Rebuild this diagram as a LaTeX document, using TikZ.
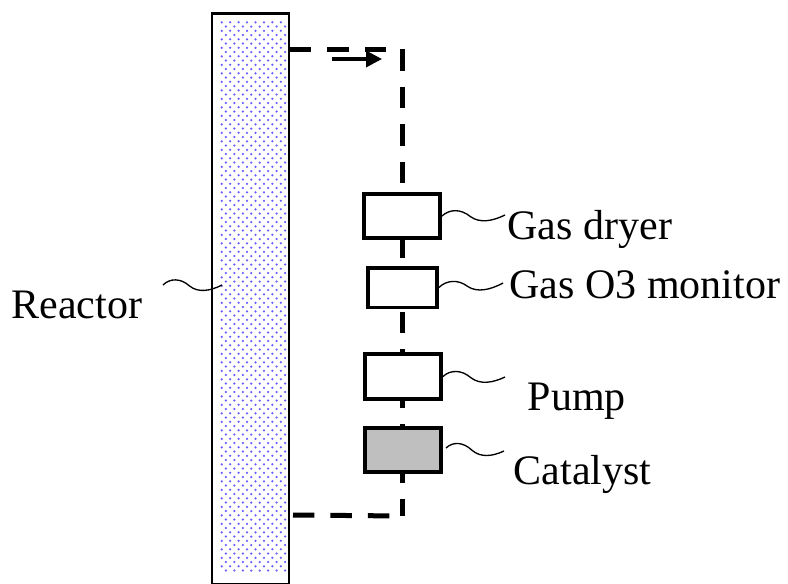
\documentclass[tikz,border=0pt]{standalone}
\usepackage{fontspec}
\setmainfont{Liberation Serif}
\usetikzlibrary{calc,arrows.meta}

\definecolor{dotblue}{RGB}{105,95,255}
\definecolor{catalystgray}{RGB}{191,191,191}

\tikzset{
  unit/.style={draw=black,line width=3pt,fill=white,minimum width=57pt,minimum height=33pt,inner sep=0pt},
  label/.style={font=\fontsize{31.5pt}{36pt}\selectfont,anchor=base west,inner sep=0pt},
  gasline/.style={line width=3.75pt,dash pattern=on 16.1pt off 12pt},
  wavy/.style={line width=1.2pt,to path={
    .. controls ($(\tikztostart)!.12!(\tikztotarget)+(0,-7)$) and ($(\tikztostart)!.3!(\tikztotarget)+(0,-7)$)
    .. ($(\tikztostart)!.45!(\tikztotarget)+(0,1)$)
    .. controls ($(\tikztostart)!.6!(\tikztotarget)+(0,8)$) and ($(\tikztostart)!.8!(\tikztotarget)+(0,6)$)
    .. (\tikztotarget)}}
}

\begin{document}
\begin{tikzpicture}[x=0.75pt,y=-0.75pt,line width=1pt]

    \useasboundingbox (0,0) rectangle (788,583);

    % reactor column
    \node[draw=black,line width=2pt,minimum width=57.75pt,minimum height=428pt,inner sep=0pt] (reactor) at (250.5,298.5) {};
    \foreach \row in {0,...,129}
    \foreach \col in {0,...,7}
    {
      \pgfmathsetmacro{\dotx}{221.7+8.45*\col+4.22*mod(\row,2)}
      \pgfmathsetmacro{\doty}{22.3+4.25*\row}
      \fill[dotblue] (\dotx,\doty) circle(1.25);
    }

    \coordinate (outtop) at (290,49);
    \coordinate (cornertop) at (402,49);
    \coordinate (cornerbottom) at (402,516);
    \coordinate (outbottom) at (293,515);

    % gas loop
    \draw[gasline] (outtop) -- (cornertop) -- (cornerbottom);
    \draw[gasline] (outbottom) -- (cornerbottom);

    % flow direction
    \coordinate (flowstart) at (332,59);
    \coordinate (flowend) at (382,59);
    \draw[line width=2.6pt,-{Triangle[length=12pt,width=12pt]}] (flowstart) -- (flowend);

    \node[unit] (dryer) at (402,216) {};
    \node[unit,line width=2.6pt,minimum width=52pt,minimum height=29.6pt] (monitor) at (402.5,287.5) {};
    \node[unit,minimum height=33.75pt] (pump) at (403,376.5) {};
    \node[unit,fill=catalystgray] (catalyst) at (403,450) {};

    \node[label] (reactorlabel) at (11,318) {Reactor};
    \node[label] (dryerlabel) at (507,239) {Gas dryer};
    \node[label] (monitorlabel) at (509,298) {Gas O3 monitor};
    \node[label] (pumplabel) at (527,410) {Pump};
    \node[label] (catalystlabel) at (513,484) {Catalyst};

    \coordinate (reactorleadA) at (163,285);
    \coordinate (reactorleadB) at (222,285);
    \coordinate (dryerleadB) at (505,215);
    \coordinate (monitorleadB) at (503,283);
    \coordinate (pumpleadB) at (505,377);
    \coordinate (catalystleadA) at (446,448);
    \coordinate (catalystleadB) at (504,451);

    \draw (reactorleadA) to[wavy] (reactorleadB);
    \draw (dryer.east) to[wavy] (dryerleadB);
    \draw (monitor.east) to[wavy] (monitorleadB);
    \draw (pump.east) to[wavy] (pumpleadB);
    \draw (catalystleadA) to[wavy] (catalystleadB);

\end{tikzpicture}
\end{document}
